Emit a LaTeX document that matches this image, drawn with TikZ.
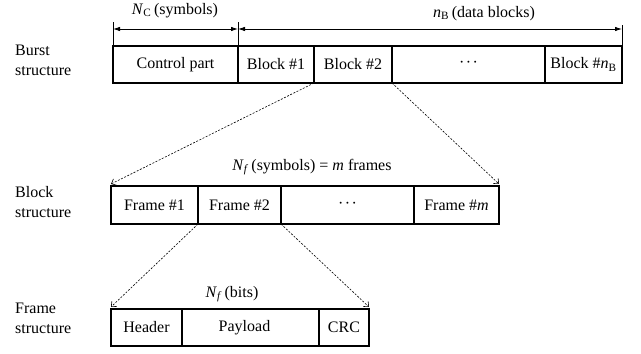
\documentclass[tikz,border=0pt]{standalone}
\usepackage{fontspec}
\setmainfont{Liberation Serif}
\usetikzlibrary{arrows.meta}
\newcommand{\sym}[2]{\textit{#1}\textsubscript{#2}}
\newcommand{\middots}{\textperiodcentered\kern1.5pt\textperiodcentered\kern1.5pt\textperiodcentered}
\begin{document}
\begin{tikzpicture}[x=1pt,y=-1pt,
  font=\fontsize{16}{20}\selectfont,
  cell/.style={draw, line width=1.6pt, inner sep=0pt, outer sep=0pt, anchor=center},
  rowlabel/.style={align=left, anchor=west, inner sep=0pt},
  toplabel/.style={anchor=base, inner sep=0pt},
  dimline/.style={line width=0.8pt, {Latex[length=7pt,width=4.5pt]}-{Latex[length=7pt,width=4.5pt]}},
  tick/.style={line width=0.8pt},
  zoomline/.style={dashed, line width=0.6pt, dash pattern=on 2pt off 1.5pt, -{Straight Barb[length=4pt,width=7pt]}}]
\useasboundingbox (0,0) rectangle (641,354);

% burst structure
\node[cell, minimum width=125, minimum height=37] (ctrl) at (175.5,64.5) {Control part};
\node[cell, minimum width=76,  minimum height=37] (b1)   at (276,64.5) {Block \#1};
\node[cell, minimum width=78,  minimum height=37] (b2)   at (353,64.5) {Block \#2};
\node[cell, minimum width=153, minimum height=37] (bd)   at (468.5,64.5) {\middots};
\node[cell, minimum width=77,  minimum height=37] (bn)   at (583.5,64.5) {Block \#\sym{n}{B}};

% dimension marks above the burst
\draw[tick] (ctrl.north west) -- ++(0,-24);
\draw[tick] (ctrl.north east) -- ++(0,-24);
\draw[tick] (bn.north east) -- ++(0,-21);
\draw[dimline] ([yshift=17pt]ctrl.north west) -- ([yshift=17pt]ctrl.north east);
\draw[dimline] ([yshift=17pt]ctrl.north east) -- ([yshift=17pt]bn.north east);
\node[toplabel] (nc) at (175,14) {\sym{N}{C}\,(symbols)};
\node[toplabel] (nb) at (484,17) {\sym{n}{B}\,(data blocks)};

% block structure
\node[cell, minimum width=87,  minimum height=38] (f1) at (154.5,205) {Frame \#1};
\node[cell, minimum width=83,  minimum height=38] (f2) at (239.5,205) {Frame \#2};
\node[cell, minimum width=133, minimum height=38] (fd) at (347.5,205) {\middots};
\node[cell, minimum width=85,  minimum height=38] (fm) at (456.5,205) {Frame \#\textit{m}};
\node[toplabel] (nfs) at (312,170) {\sym{N}{\textit{f}}\,(symbols) = \textit{m} frames};

% frame structure
\node[cell, minimum width=71,  minimum height=37] (hdr) at (146.5,327.5) {Header};
\node[cell, minimum width=137, minimum height=37] (pay) at (250.5,327.5) {\hspace*{-12pt}Payload};
\node[cell, minimum width=50,  minimum height=37] (crc) at (344,327.5) {CRC};
\node[toplabel] (nfb) at (232,297) {\sym{N}{\textit{f}}\,(bits)};

% zoom-in connectors
\draw[zoomline] (b2.south west) -- ([yshift=2pt]f1.north west);
\draw[zoomline] (b2.south east) -- ([yshift=2pt]fm.north east);
\draw[zoomline] (f2.south west) -- ([yshift=2pt]hdr.north west);
\draw[zoomline] (f2.south east) -- ([yshift=2pt]crc.north east);

% row labels
\node[rowlabel] (lb) at (15,60) {Burst\\structure};
\node[rowlabel] (lk) at (15,202) {Block\\structure};
\node[rowlabel] (lf) at (15,318) {Frame\\structure};
\end{tikzpicture}
\end{document}
